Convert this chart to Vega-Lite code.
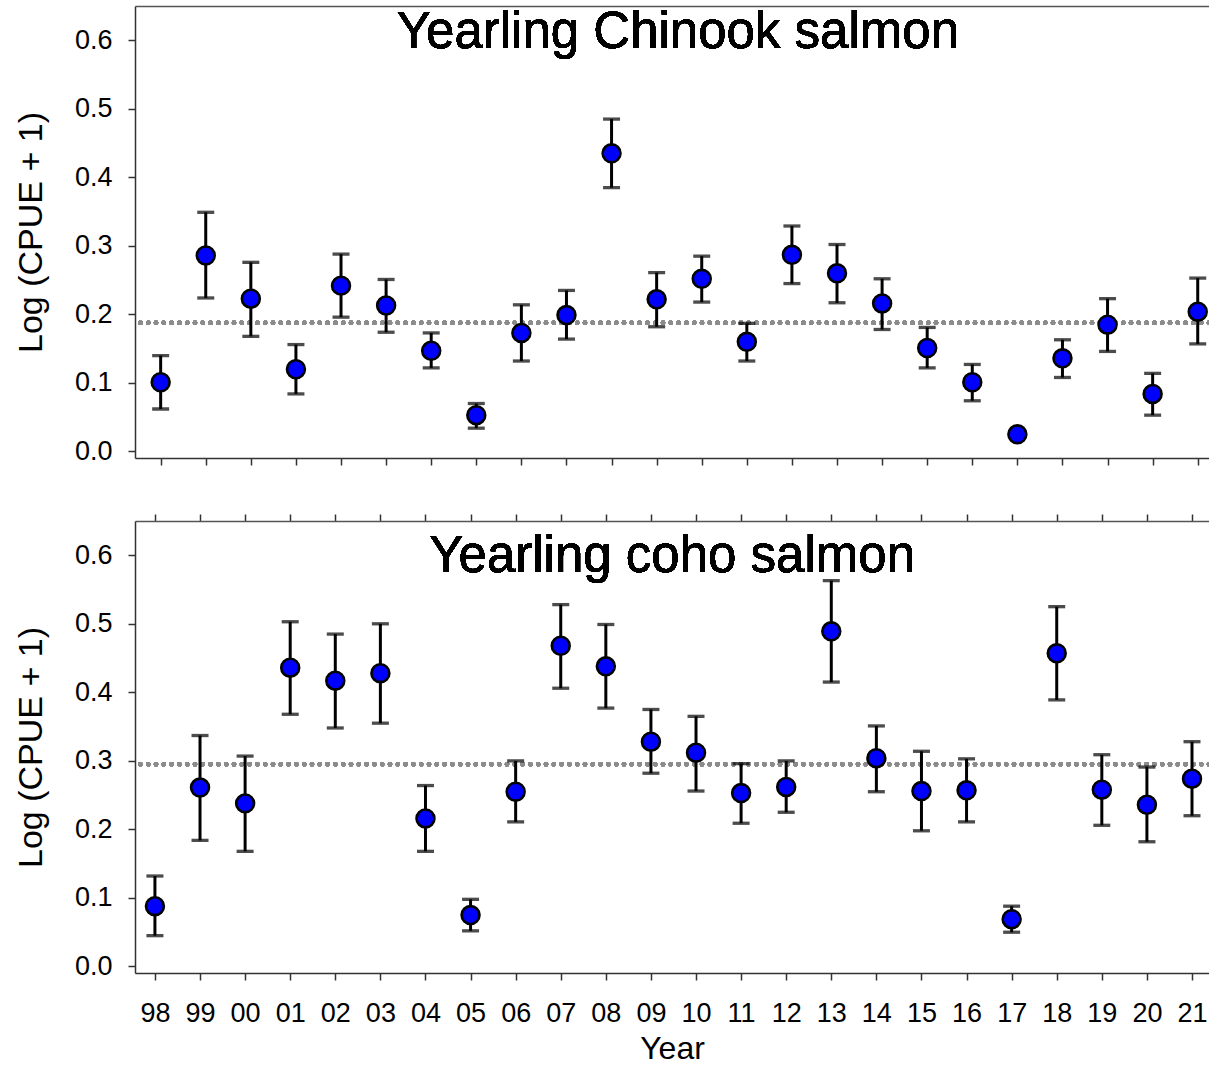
{
  "$schema": "https://vega.github.io/schema/vega-lite/v6.json",
  "padding": {"left": 14, "top": 6, "right": 0, "bottom": 0},
  "background": "white",
  "spacing": 47,
  "datasets": {
    "chinook": [
      {"year": 1998, "mean": 0.101, "lo": 0.062, "hi": 0.140},
      {"year": 1999, "mean": 0.286, "lo": 0.224, "hi": 0.349},
      {"year": 2000, "mean": 0.223, "lo": 0.168, "hi": 0.276},
      {"year": 2001, "mean": 0.120, "lo": 0.084, "hi": 0.156},
      {"year": 2002, "mean": 0.242, "lo": 0.196, "hi": 0.288},
      {"year": 2003, "mean": 0.213, "lo": 0.174, "hi": 0.251},
      {"year": 2004, "mean": 0.147, "lo": 0.122, "hi": 0.173},
      {"year": 2005, "mean": 0.053, "lo": 0.034, "hi": 0.070},
      {"year": 2006, "mean": 0.173, "lo": 0.132, "hi": 0.214},
      {"year": 2007, "mean": 0.199, "lo": 0.164, "hi": 0.235},
      {"year": 2008, "mean": 0.435, "lo": 0.385, "hi": 0.485},
      {"year": 2009, "mean": 0.222, "lo": 0.182, "hi": 0.261},
      {"year": 2010, "mean": 0.252, "lo": 0.218, "hi": 0.285},
      {"year": 2011, "mean": 0.160, "lo": 0.132, "hi": 0.187},
      {"year": 2012, "mean": 0.287, "lo": 0.245, "hi": 0.329},
      {"year": 2013, "mean": 0.260, "lo": 0.217, "hi": 0.302},
      {"year": 2014, "mean": 0.216, "lo": 0.178, "hi": 0.252},
      {"year": 2015, "mean": 0.151, "lo": 0.122, "hi": 0.181},
      {"year": 2016, "mean": 0.101, "lo": 0.074, "hi": 0.127},
      {"year": 2017, "mean": 0.025, "lo": 0.022, "hi": 0.028},
      {"year": 2018, "mean": 0.136, "lo": 0.108, "hi": 0.163},
      {"year": 2019, "mean": 0.185, "lo": 0.146, "hi": 0.223},
      {"year": 2020, "mean": 0.084, "lo": 0.053, "hi": 0.114},
      {"year": 2021, "mean": 0.204, "lo": 0.157, "hi": 0.253}
    ],
    "coho": [
      {"year": 1998, "mean": 0.088, "lo": 0.045, "hi": 0.132},
      {"year": 1999, "mean": 0.261, "lo": 0.184, "hi": 0.337},
      {"year": 2000, "mean": 0.238, "lo": 0.168, "hi": 0.307},
      {"year": 2001, "mean": 0.436, "lo": 0.368, "hi": 0.503},
      {"year": 2002, "mean": 0.417, "lo": 0.348, "hi": 0.485},
      {"year": 2003, "mean": 0.428, "lo": 0.355, "hi": 0.500},
      {"year": 2004, "mean": 0.216, "lo": 0.168, "hi": 0.264},
      {"year": 2005, "mean": 0.075, "lo": 0.052, "hi": 0.098},
      {"year": 2006, "mean": 0.255, "lo": 0.211, "hi": 0.300},
      {"year": 2007, "mean": 0.468, "lo": 0.406, "hi": 0.528},
      {"year": 2008, "mean": 0.438, "lo": 0.377, "hi": 0.499},
      {"year": 2009, "mean": 0.328, "lo": 0.282, "hi": 0.375},
      {"year": 2010, "mean": 0.312, "lo": 0.256, "hi": 0.365},
      {"year": 2011, "mean": 0.253, "lo": 0.209, "hi": 0.296},
      {"year": 2012, "mean": 0.262, "lo": 0.225, "hi": 0.300},
      {"year": 2013, "mean": 0.489, "lo": 0.415, "hi": 0.563},
      {"year": 2014, "mean": 0.304, "lo": 0.255, "hi": 0.351},
      {"year": 2015, "mean": 0.256, "lo": 0.198, "hi": 0.314},
      {"year": 2016, "mean": 0.257, "lo": 0.211, "hi": 0.303},
      {"year": 2017, "mean": 0.069, "lo": 0.050, "hi": 0.088},
      {"year": 2018, "mean": 0.457, "lo": 0.389, "hi": 0.525},
      {"year": 2019, "mean": 0.258, "lo": 0.206, "hi": 0.309},
      {"year": 2020, "mean": 0.236, "lo": 0.182, "hi": 0.291},
      {"year": 2021, "mean": 0.274, "lo": 0.220, "hi": 0.328}
    ]
  },
  "vconcat": [
    {
      "width": 1074,
      "height": 452,
      "data": {"name": "chinook"},
      "resolve": {"axis": {"x": "independent"}},
      "layer": [
        {
          "mark": {"type": "rule", "color": "#8c8c8c", "strokeWidth": 4.5, "strokeDash": [0, 7.8], "strokeCap": "round"},
          "encoding": {
            "y": {"datum": 0.188, "type": "quantitative", "scale": {"domain": [-0.0095, 0.65], "nice": false, "zero": false},
                  "axis": {"title": "Log (CPUE + 1)", "values": [0, 0.1, 0.2, 0.3, 0.4, 0.5, 0.6], "format": ".1f", "labelPadding": 16, "titlePadding": 26}}
          }
        },
        {
          "mark": {"type": "errorbar", "thickness": 3, "color": "black", "ticks": {"size": 17, "thickness": 3.3, "color": "black"}, "rule": {"strokeWidth": 3, "color": "black"}},
          "encoding": {
            "x": {"field": "year", "type": "quantitative", "scale": {"domain": [1997.431, 2021.25], "nice": false, "zero": false},
                  "axis": {"orient": "bottom", "values": [1998,1999,2000,2001,2002,2003,2004,2005,2006,2007,2008,2009,2010,2011,2012,2013,2014,2015,2016,2017,2018,2019,2020,2021], "labels": false, "title": null}},
            "y": {"field": "lo", "type": "quantitative", "title": "Log (CPUE + 1)"},
            "y2": {"field": "hi"}
          }
        },
        {
          "mark": {"type": "point", "shape": "circle", "filled": true, "size": 320, "fill": "#0000ff", "stroke": "black", "strokeWidth": 2.6, "opacity": 1},
          "encoding": {
            "x": {"field": "year", "type": "quantitative", "axis": null},
            "y": {"field": "mean", "type": "quantitative", "title": "Log (CPUE + 1)"}
          }
        },
        {
          "mark": {"type": "text", "fontSize": 51, "font": "Liberation Sans", "baseline": "alphabetic", "align": "center", "color": "black"},
          "encoding": {
            "x": {"datum": 2009.47, "type": "quantitative", "axis": {"orient": "top", "ticks": false, "labels": false, "title": null, "domainColor": "#555"}},
            "y": {"datum": 0.588, "type": "quantitative"},
            "text": {"value": "Yearling Chinook salmon"}
          }
        }
      ]
    },
    {
      "width": 1074,
      "height": 452,
      "data": {"name": "coho"},
      "resolve": {"axis": {"x": "independent"}},
      "layer": [
        {
          "mark": {"type": "rule", "color": "#8c8c8c", "strokeWidth": 4.5, "strokeDash": [0, 7.8], "strokeCap": "round"},
          "encoding": {
            "y": {"datum": 0.295, "type": "quantitative", "scale": {"domain": [-0.0095, 0.65], "nice": false, "zero": false},
                  "axis": {"title": "Log (CPUE + 1)", "values": [0, 0.1, 0.2, 0.3, 0.4, 0.5, 0.6], "format": ".1f", "labelPadding": 16, "titlePadding": 26}}
          }
        },
        {
          "mark": {"type": "errorbar", "thickness": 3, "color": "black", "ticks": {"size": 17, "thickness": 3.3, "color": "black"}, "rule": {"strokeWidth": 3, "color": "black"}},
          "encoding": {
            "x": {"field": "year", "type": "quantitative", "scale": {"domain": [1997.558, 2021.377], "nice": false, "zero": false},
                  "axis": {"orient": "bottom", "values": [1998,1999,2000,2001,2002,2003,2004,2005,2006,2007,2008,2009,2010,2011,2012,2013,2014,2015,2016,2017,2018,2019,2020,2021], "format": "d", "labelExpr": "substring(datum.label, 2)", "labelPadding": 20, "title": "Year", "titleFontSize": 32, "titlePadding": 7}},
            "y": {"field": "lo", "type": "quantitative", "title": "Log (CPUE + 1)"},
            "y2": {"field": "hi"}
          }
        },
        {
          "mark": {"type": "point", "shape": "circle", "filled": true, "size": 320, "fill": "#0000ff", "stroke": "black", "strokeWidth": 2.6, "opacity": 1},
          "encoding": {
            "x": {"field": "year", "type": "quantitative", "axis": null},
            "y": {"field": "mean", "type": "quantitative", "title": "Log (CPUE + 1)"}
          }
        },
        {
          "mark": {"type": "text", "fontSize": 51, "font": "Liberation Sans", "baseline": "alphabetic", "align": "center", "color": "black"},
          "encoding": {
            "x": {"datum": 2009.47, "type": "quantitative", "axis": {"orient": "top", "values": [1998,1999,2000,2001,2002,2003,2004,2005,2006,2007,2008,2009,2010,2011,2012,2013,2014,2015,2016,2017,2018,2019,2020,2021], "labels": false, "title": null, "domainColor": "#555"}},
            "y": {"datum": 0.576, "type": "quantitative"},
            "text": {"value": "Yearling coho salmon"}
          }
        }
      ]
    }
  ],
  "config": {
    "font": "Liberation Sans",
    "view": {"stroke": null},
    "axis": {
      "labelFont": "Liberation Sans",
      "titleFont": "Liberation Sans",
      "labelColor": "black",
      "titleColor": "black",
      "domainColor": "#333",
      "tickColor": "#333",
      "grid": false,
      "tickSize": 7,
      "tickWidth": 1.5,
      "domainWidth": 1.5,
      "labelFontSize": 27,
      "titleFontSize": 34,
      "titleFontWeight": "normal"
    }
  }
}
